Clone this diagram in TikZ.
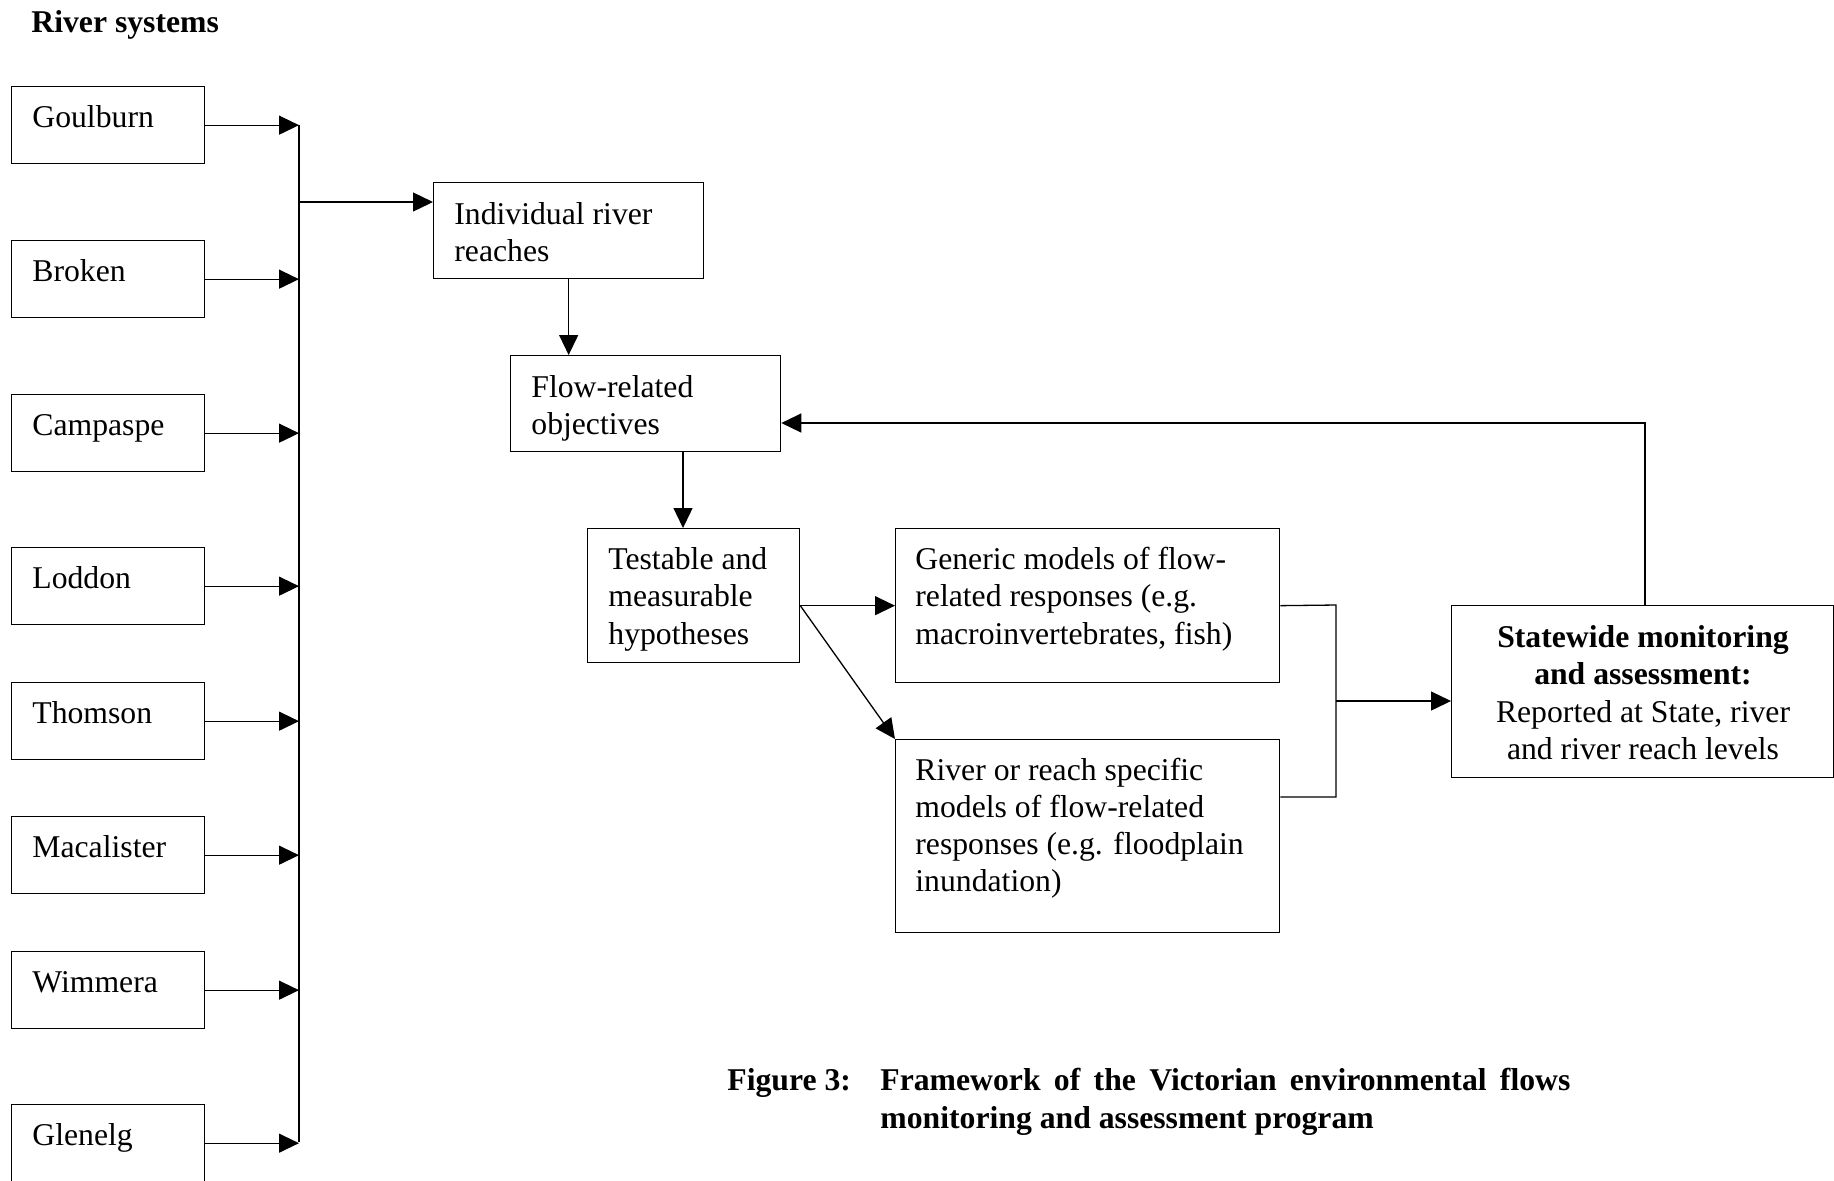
\documentclass[tikz,border=0pt]{standalone}
\usepackage{fontspec}
\setmainfont{Liberation Serif}
\usetikzlibrary{arrows.meta,calc}

\begin{document}
\begin{tikzpicture}[
  x=0.5pt, y=-0.5pt,
  every node/.style={font=\fontsize{15.85pt}{18.55pt}\selectfont},
  box/.style 2 args={draw, line width=0.65pt, anchor=north west, inner sep=0pt,
    minimum width=#1*0.5pt, minimum height=#2*0.5pt},
  txt/.style={inner sep=0pt, align=left, anchor=north west},
  arr/.style={line width=0.65pt, -{Triangle[length=10pt,width=9.5pt]}},
  ln/.style={line width=0.65pt},
]
\useasboundingbox (0,0) rectangle (1834,1180);

% heading
\node[txt, font=\fontsize{15.85pt}{18.55pt}\selectfont\bfseries] (head) at (31,6.5) {\strut River systems};

% river system boxes and their labels
\foreach \nm/\lbl/\top in {goul/Goulburn/86, brok/Broken/240, camp/Campaspe/394,
    lodd/Loddon/547, thom/Thomson/682, maca/Macalister/816,
    wimm/Wimmera/951, glen/Glenelg/1104}{
  \node[box={193}{77}] (\nm) at (11,\top) {};
  \node[txt] (\nm-t) at ([shift={(21,15.5)}]\nm.north west) {\strut\lbl};
}

% collecting bus
\coordinate (busTop) at (299,125);
\coordinate (busBot) at (299,1142);
\coordinate (busOut) at (299,202);
\draw[ln] (busTop) -- (busBot);
\foreach \nm in {goul,brok,camp,lodd,thom,maca,wimm,glen}{
  \draw[arr] (\nm.east) -- (\nm.east -| busTop);
}

% process boxes
\node[box={270}{96}]  (indiv)   at (433,182) {};
\node[box={270}{96}]  (flow)    at (510,355) {};
\node[box={212}{134}] (test)    at (587,528) {};
\node[box={384}{154}] (generic) at (895,528) {};
\node[box={384}{193}] (reach)   at (895,739) {};
\node[box={382}{172}] (state)   at (1451,605) {};

\node[txt] (indiv-t) at ([shift={(21,16)}]indiv.north west) {\strut Individual river\\reaches};
\node[txt] (flow-t) at ([shift={(21,16)}]flow.north west) {\strut Flow-related\\objectives};
\node[txt] (test-t) at ([shift={(21,15.5)}]test.north west) {\strut Testable and\\measurable\\hypotheses};
\node[txt] (generic-t) at ([shift={(20,15.5)}]generic.north west)
  {\strut Generic models of flow-\\related responses (e.g.\\macroinvertebrates, fish)};
\node[txt] (reach-t) at ([shift={(20,15)}]reach.north west)
  {\strut River or reach specific\\models of flow-related\\responses (e.g. floodplain\\inundation)};
\node[inner sep=0pt, align=center, anchor=north] (state-t) at (1643,621.5)
  {\strut\textbf{Statewide monitoring}\\\textbf{and assessment:}\\Reported at State, river\\and river reach levels};

% connectors
\draw[arr] (busOut) -- (busOut -| indiv.west);
\draw[arr] (indiv.south) -- (indiv.south |- flow.north);
\draw[arr] ([shift={(173,0)}]flow.south west) coordinate (fq) -- (fq |- test.north);
\draw[arr] (generic.west -| test.east) -- (generic.west);
\draw[arr] (generic.west -| test.east) -- (reach.north west);

% merge bracket into the statewide box
\coordinate (brTop) at (1336,605);
\coordinate (brBot) at (1336,797);
\coordinate (brMid) at (1336,701);
\draw[ln] (generic.east) -- (brTop) -- (brBot) -- (brBot -| reach.east);
\draw[arr] (brMid) -- (brMid -| state.west);

% feedback loop
\coordinate (fb) at (1645,423);
\draw[arr] (state.north -| fb) -- (fb) -- (fb -| flow.east);

% caption
\node[txt, anchor=base west, font=\fontsize{15.85pt}{18.55pt}\selectfont\bfseries] (cap-n) at (727,1090) {Figure 3:};
\node[txt, anchor=base west, font=\fontsize{15.85pt}{18.55pt}\selectfont\bfseries] (cap-1) at (880,1090)
  {\makebox[345pt][s]{Framework of the Victorian environmental flows}};
\node[txt, anchor=base west, font=\fontsize{15.85pt}{18.55pt}\selectfont\bfseries] (cap-2) at (880,1128)
  {monitoring and assessment program};
\end{tikzpicture}
\end{document}
